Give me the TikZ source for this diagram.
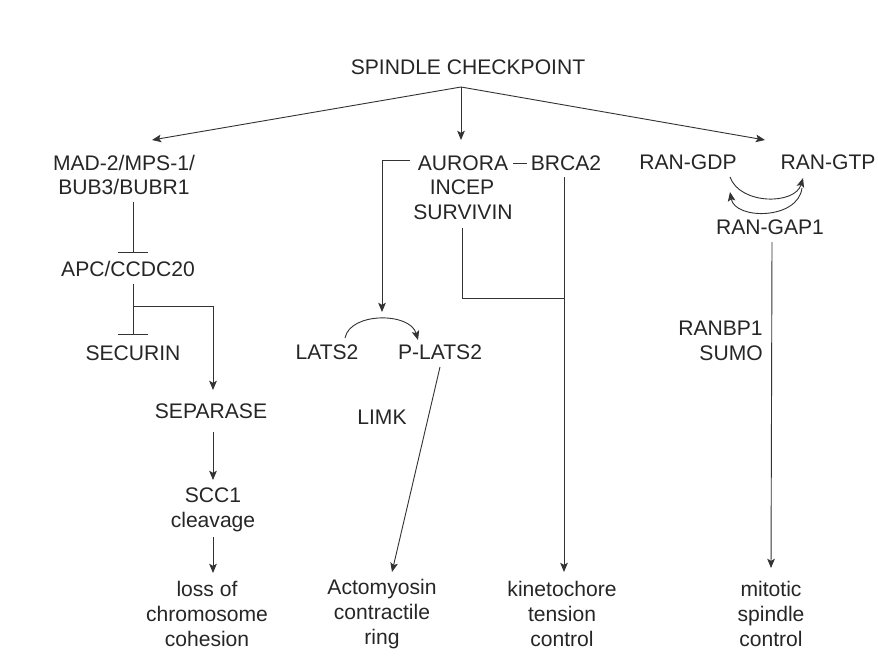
\documentclass[tikz,border=0pt]{standalone}
\usepackage{fontspec}
\setmainfont{Liberation Sans}
\usetikzlibrary{arrows.meta,calc}

\begin{document}
\begin{tikzpicture}[x=0.025cm, y=-0.025cm,
    label/.style={align=center, text=textColour, font=\fontsize{15}{17.7}\selectfont, inner sep=0pt},
    link/.style={draw=lineColour, line width=0.65pt},
    arr/.style={link, -{Stealth[length=2.3mm,width=1.9mm,inset=0.5mm]}},
    inh/.style={link, -{Bar[width=7.5mm]}}]
    \definecolor{lineColour}{HTML}{333333}
    \definecolor{textColour}{HTML}{262626}

    \useasboundingbox (0,0) rectangle (878,666);

    % Checkpoint
    \node[label] (top) at (468,67) {SPINDLE CHECKPOINT};
    \coordinate (fan) at ($(top)+(-7,20)$);

    % Left branch
    \node[label] (mad) at (124,175) {MAD-2/MPS-1/\\BUB3/BUBR1};
    \node[label] (apc) at (128,269) {APC/CCDC20};
    \node[label] (sec) at (133,353) {SECURIN};
    \node[label] (sep) at (211,411) {SEPARASE};
    \node[label] (scc) at (213,510) {SCC1\\cleavage};
    \node[label] (loss) at (207,614) {loss of\\chromosome\\cohesion};

    % Middle branch
    \node[label] (aur) at (463,163) {AURORA};
    \node[label] (brca) at (566,163) {BRCA2};
    \node[label] (incep) at (462,187) {INCEP};
    \node[label] (surv) at (463,212) {SURVIVIN};
    \node[label] (lats) at (327,352) {LATS2};
    \node[label] (plats) at (440,352) {P-LATS2};
    \node[label] (limk) at (382,417) {LIMK};
    \node[label] (acto) at (382,614) {Actomyosin\\contractile\\ring};
    \node[label] (kin) at (562,614) {kinetochore\\tension\\control};

    % Right branch
    \node[label] (gdp) at (688,162) {RAN-GDP};
    \node[label] (gtp) at (828,162) {RAN-GTP};
    \node[label] (gap) at (770,227) {RAN-GAP1};
    \node[label, align=right, anchor=east] (ranbp) at (763,341) {RANBP1\\SUMO};
    \node[label] (mit) at (771,614) {mitotic\\spindle\\control};

    % Fan out
    \draw[arr] (fan) -- ($(mad)+(28,-35)$);
    \draw[arr] (fan) -- ($(aur)+(-2,-23)$);
    \draw[arr] (fan) -- ($(gdp)+(77,-22)$);

    % Cohesion pathway
    \draw[inh] ($(mad)+(9,27)$) -- ($(apc)+(5,-16)$);
    \draw[inh] ($(apc)+(5,15)$) -- ($(sec)+(0,-18)$);
    \draw[arr] ($(apc)+(5,37)$) -| ($(sep)+(2,-21)$);
    \draw[arr] ($(sep)+(2,21)$) -- ($(scc)+(0,-30)$);
    \draw[arr] ($(scc)+(0,27)$) -- ($(loss)+(6,-41)$);

    % Aurora pathway
    \draw[link] ($(aur)+(50,0)$) -- ($(brca)+(-39,0)$);
    \draw[arr] ($(aur)+(-53,-3)$) -| ($(lats)+(55,-40)$);
    \draw[arr] ($(lats)+(18,-14)$) .. controls ($(lats)+(23,-40)$) and ($(plats)+(-30,-40)$) .. ($(plats)+(-22,-12)$);
    \draw[link] ($(surv)+(-1,16)$) |- ($(brca)+(-2,135)$);
    \draw[arr] ($(brca)+(-2,14)$) -- ($(kin)+(2,-42)$);
    \draw[arr] ($(plats)+(0,15)$) -- ($(acto)+(10,-42)$);

    % Ran cycle
    \draw[arr] ($(gdp)+(42,15)$) .. controls ($(gdp)+(52,43)$) and ($(gtp)+(-33,43)$) .. ($(gtp)+(-25,16)$);
    \draw[arr] ($(gtp)+(-26,26)$) .. controls ($(gtp)+(-30,58)$) and ($(gdp)+(47,58)$) .. ($(gdp)+(42,30)$);
    \draw[arr] ($(gap)+(2,15)$) -- ($(mit)+(0,-46)$);

\end{tikzpicture}
\end{document}
